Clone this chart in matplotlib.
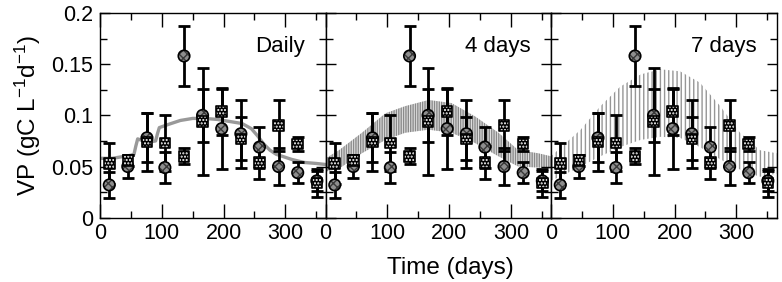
import matplotlib
matplotlib.use("Agg")
import matplotlib.pyplot as plt
from matplotlib.ticker import MultipleLocator, FixedLocator, FuncFormatter

plt.rcParams['font.family'] = ['Liberation Sans', 'DejaVu Sans']
plt.rcParams['mathtext.default'] = 'regular'
plt.rcParams['hatch.linewidth'] = 1.0

# monthly observations
obs_days = [15, 45, 76, 105, 136, 166, 197, 228, 258, 289, 320, 351]
circle_vp = [0.032, 0.050, 0.078, 0.049, 0.158, 0.100, 0.087, 0.082, 0.069, 0.050, 0.044, 0.036]
circle_err = [0.013, 0.011, 0.024, 0.015, 0.029, 0.026, 0.039, 0.033, 0.020, 0.018, 0.010, 0.010]
square_vp = [0.053, 0.056, 0.074, 0.073, 0.060, 0.094, 0.104, 0.077, 0.054, 0.090, 0.072, 0.034]
square_err = [0.020, 0.005, 0.028, 0.027, 0.008, 0.052, 0.023, 0.021, 0.016, 0.025, 0.007, 0.014]

# model, daily forcing
daily_days = [0, 10, 20, 30, 40, 50, 55, 58, 61, 70, 80, 90, 93, 96, 110, 130, 150,
              170, 190, 210, 230, 245, 255, 265, 275, 285, 295, 310, 330, 350, 365]
daily_vp = [0.058, 0.058, 0.058, 0.059, 0.060, 0.061, 0.062, 0.070, 0.077, 0.075, 0.074,
            0.075, 0.082, 0.088, 0.091, 0.095, 0.097, 0.097, 0.096, 0.094, 0.092, 0.087,
            0.080, 0.072, 0.066, 0.062, 0.060, 0.057, 0.054, 0.053, 0.052]

# model, 4 day forcing (range of the oscillation)
days4 = [0, 22, 59, 97, 129, 167, 204, 242, 280, 312, 344, 365]
upper4 = [0.058, 0.066, 0.083, 0.102, 0.109, 0.115, 0.112, 0.099, 0.083, 0.066, 0.063, 0.060]
lower4 = [0.045, 0.048, 0.063, 0.076, 0.083, 0.086, 0.083, 0.073, 0.060, 0.050, 0.049, 0.048]

# model, 7 day forcing
days7 = [0, 48, 80, 112, 145, 177, 209, 241, 274, 306, 338, 365]
upper7 = [0.060, 0.086, 0.109, 0.128, 0.140, 0.145, 0.143, 0.132, 0.109, 0.083, 0.066, 0.063]
lower7 = [0.036, 0.050, 0.060, 0.069, 0.076, 0.079, 0.078, 0.069, 0.057, 0.047, 0.040, 0.043]

panel_names = ['Daily', '4 days', '7 days']


def draw_obs(ax):
    """Error bars plus the two hatched marker series."""
    ax.errorbar(obs_days, circle_vp, yerr=circle_err, fmt='none', ecolor='black',
                elinewidth=2, capsize=4, capthick=2, zorder=2)
    ax.errorbar(obs_days, square_vp, yerr=square_err, fmt='none', ecolor='black',
                elinewidth=2, capsize=4, capthick=2, zorder=2)
    ax.scatter(obs_days, circle_vp, s=68, marker='o', facecolor='#8e8e8e',
               edgecolor='#383838', linewidths=0, hatch='xxxx', zorder=3)
    ax.scatter(obs_days, circle_vp, s=68, marker='o', facecolor='none',
               edgecolor='black', linewidths=1.2, zorder=3)
    ax.scatter(obs_days, square_vp, s=58, marker='s', facecolor='black',
               edgecolor='white', linewidths=0, hatch='.....', zorder=4)
    ax.scatter(obs_days, square_vp, s=58, marker='s', facecolor='none',
               edgecolor='black', linewidths=1.2, zorder=4)


def style_axes(ax, first):
    ax.set_xlim(0, 365)
    ax.set_ylim(0, 0.2)
    ax.xaxis.set_major_locator(FixedLocator([0, 100, 200, 300]))
    ax.xaxis.set_minor_locator(FixedLocator([50, 150, 250, 350]))
    ax.yaxis.set_major_locator(MultipleLocator(0.05))
    ax.yaxis.set_minor_locator(MultipleLocator(0.025))
    ax.yaxis.set_major_formatter(FuncFormatter(lambda v, p: '%g' % round(v, 3)))
    ax.tick_params(which='both', direction='in', top=True, right=True,
                   width=1, labelsize=15.5)
    ax.tick_params(axis='x', which='major', length=10, pad=4)
    ax.tick_params(axis='x', which='minor', length=5)
    ax.tick_params(axis='y', which='major', length=7, pad=5)
    ax.tick_params(axis='y', which='minor', length=5)
    if not first:
        ax.tick_params(labelleft=False)
    for sp in ax.spines.values():
        sp.set_linewidth(1)


def main():
    fig = plt.figure(figsize=(7.82, 2.82), dpi=100)
    left, width = 100 / 782, 225.5 / 782
    bottom, height = (282 - 217.7) / 282, (217.7 - 13) / 282

    axes = [fig.add_axes([left + i * width, bottom, width, height]) for i in range(3)]

    axes[0].plot(daily_days, daily_vp, color='#999999', linewidth=2.4, zorder=1)
    axes[1].fill_between(days4, lower4, upper4, facecolor='#e4e4e4', edgecolor='#8a8a8a',
                         linewidth=0, hatch='|' * 7, zorder=1)
    axes[2].fill_between(days7, lower7, upper7, facecolor='none', edgecolor='#969696',
                         linewidth=0, hatch='|' * 4, zorder=1)

    for i, ax in enumerate(axes):
        draw_obs(ax)
        style_axes(ax, i == 0)
        ax.text(0.91, 0.835, panel_names[i], transform=ax.transAxes,
                ha='right', va='center', fontsize=16)

    axes[0].set_ylabel('VP (gC L$^{-1}$d$^{-1}$)', fontsize=17.5, labelpad=6)
    fig.text(450 / 782, 1 - 268 / 282, 'Time (days)', ha='center', va='center', fontsize=17.5)

    fig.savefig('out.png', dpi=100)


if __name__ == "__main__":
    main()
